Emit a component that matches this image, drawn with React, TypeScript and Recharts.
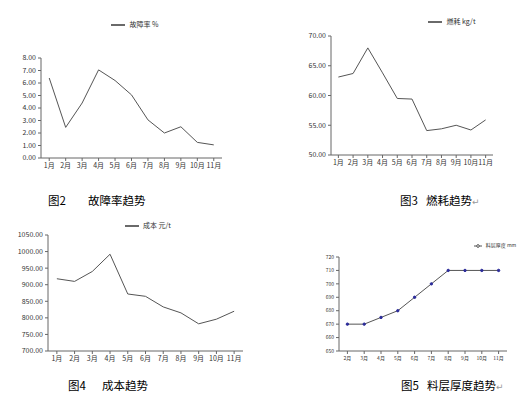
import React from "react"
import { LineChart, Line, XAxis, YAxis, Legend } from "recharts"

// monthly values
const months11 = ["1月", "2月", "3月", "4月", "5月", "6月", "7月", "8月", "9月", "10月", "11月"]
const months10 = ["2月", "3月", "4月", "5月", "6月", "7月", "8月", "9月", "10月", "11月"]

const faultRate = [6.4, 2.45, 4.4, 7.05, 6.2, 5.05, 3.05, 2.0, 2.5, 1.25, 1.05]
const fuelUse = [63.1, 63.7, 68.0, 63.8, 59.5, 59.4, 54.1, 54.4, 55.0, 54.2, 55.9]
const cost = [918, 910, 940, 992, 872, 865, 833, 815, 782, 796, 820]
const layerThickness = [670, 670, 675, 680, 690, 700, 710, 710, 710, 710]

const faultTicks = [0, 1, 2, 3, 4, 5, 6, 7, 8]
const fuelTicks = [50, 55, 60, 65, 70]
const costTicks = [700, 750, 800, 850, 900, 950, 1000, 1050]
const layerTicks = [650, 660, 670, 680, 690, 700, 710, 720]

const toRows = (labels: string[], values: number[]) =>
  labels.map((m, i) => ({ month: m, value: values[i] }))

const FONT = "'Noto Sans CJK SC', 'DejaVu Sans', sans-serif"
const AXIS = "#666"

interface SmallChartProps {
  left: number
  top: number
  width: number
  height: number
  margin: { top: number; right: number; bottom: number; left: number }
  yWidth: number
  labels: string[]
  values: number[]
  ticks: number[]
  digits: number
  name: string
  legendPos: { left: number; top: number }
  fontSize?: number
  iconSize?: number
  dots?: boolean
}

function SmallChart(p: SmallChartProps) {
  const fs = p.fontSize ?? 7
  return (
    <div style={{ position: "absolute", left: p.left, top: p.top }}>
      <LineChart width={p.width} height={p.height} data={toRows(p.labels, p.values)} margin={p.margin}>
        <XAxis
          dataKey="month"
          scale="band"
          height={20}
          interval={0}
          stroke={AXIS}
          tickSize={3}
          tick={{ fontSize: fs, fill: "#333", fontFamily: FONT }}
        />
        <YAxis
          width={p.yWidth}
          domain={[p.ticks[0], p.ticks[p.ticks.length - 1]]}
          ticks={p.ticks}
          interval={0}
          stroke={AXIS}
          tickSize={3}
          tickFormatter={(v: number) => v.toFixed(p.digits)}
          tick={{ fontSize: fs, fill: "#333", fontFamily: FONT }}
        />
        <Legend
          layout="horizontal"
          verticalAlign="middle"
          iconType={p.dots ? "line" : "plainline"}
          iconSize={p.iconSize ?? 14}
          wrapperStyle={{ left: p.legendPos.left, top: p.legendPos.top, width: 60, textAlign: "left", whiteSpace: "nowrap", fontSize: fs, lineHeight: 1, fontFamily: FONT }}
          formatter={(v: string) => <span style={{ color: "#333", fontSize: fs }}>{v}</span>}
        />
        <Line
          dataKey="value"
          name={p.name}
          type="linear"
          stroke="#555"
          strokeWidth={1}
          dot={p.dots ? { r: 1.2, fill: "#2b2b9a", stroke: "#2b2b9a" } : false}
          isAnimationActive={false}
        />
      </LineChart>
    </div>
  )
}

function Caption({ left, top, fig, title, gap, ret }: { left: number; top: number; fig: string; title: string; gap: number; ret?: boolean }) {
  return (
    <div style={{ position: "absolute", left, top, fontFamily: FONT, fontSize: 11.5, lineHeight: "14px", color: "#000", whiteSpace: "nowrap" }}>
      <span>{fig}</span>
      <span style={{ marginLeft: gap }}>{title}</span>
      {ret && <span style={{ color: "#999", fontSize: 9 }}>↵</span>}
    </div>
  )
}

export default function App() {
  return (
    <div style={{ position: "absolute", left: 0, top: 0, width: 525, height: 395, background: "#fff", overflow: "hidden" }}>
      <SmallChart
        left={0} top={0} width={230} height={180}
        margin={{ top: 58, right: 8, bottom: 2, left: 0 }}
        yWidth={41}
        labels={months11} values={faultRate} ticks={faultTicks} digits={2}
        name="故障率 %" legendPos={{ left: 110, top: 18 }}
      />
      <SmallChart
        left={265} top={0} width={236} height={177}
        margin={{ top: 36, right: 8, bottom: 2, left: 26 }}
        yWidth={40}
        labels={months11} values={fuelUse} ticks={fuelTicks} digits={2}
        name="燃耗 kg/t" legendPos={{ left: 162, top: 15 }}
      />
      <SmallChart
        left={0} top={200} width={250} height={173}
        margin={{ top: 35, right: 7, bottom: 2, left: 0 }}
        yWidth={48}
        labels={months11} values={cost} ticks={costTicks} digits={2}
        name="成本 元/t" legendPos={{ left: 123, top: 19 }}
      />
      <SmallChart
        left={300} top={240} width={224} height={133}
        margin={{ top: 17, right: 17, bottom: 2, left: 0 }}
        yWidth={39}
        labels={months10} values={layerThickness} ticks={layerTicks} digits={0}
        name="料层厚度 mm" legendPos={{ left: 170, top: 2 }}
        fontSize={5} iconSize={8} dots
      />
      <Caption left={48} top={193} fig="图2" title="故障率趋势" gap={22} />
      <Caption left={400} top={193} fig="图3" title="燃耗趋势" gap={8} ret />
      <Caption left={68} top={378} fig="图4" title="成本趋势" gap={16} />
      <Caption left={401} top={378} fig="图5" title="料层厚度趋势" gap={8} ret />
    </div>
  )
}
